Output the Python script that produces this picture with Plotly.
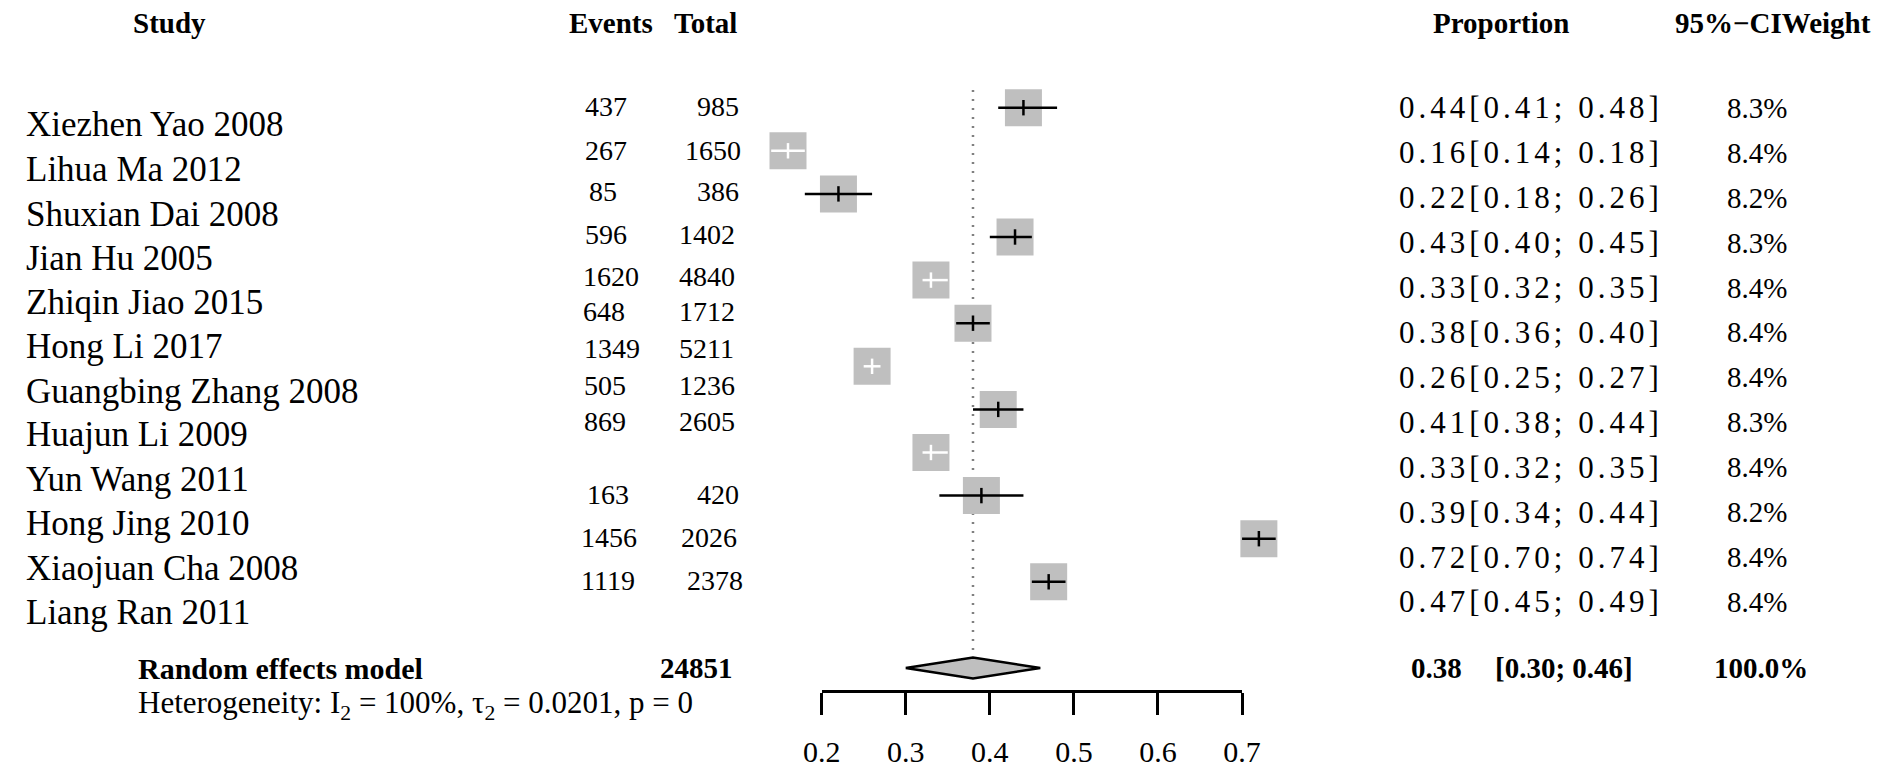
import plotly.graph_objects as go

W, H = 1902, 773

# ---------------- data ----------------
studies = ["Xiezhen Yao 2008", "Lihua Ma 2012", "Shuxian Dai 2008", "Jian Hu 2005",
           "Zhiqin Jiao 2015", "Hong Li 2017", "Guangbing Zhang 2008", "Huajun Li 2009",
           "Yun Wang 2011", "Hong Jing 2010", "Xiaojuan Cha 2008", "Liang Ran 2011"]
events = [437, 267, 85, 596, 1620, 648, 1349, 505, 869, 163, 1456, 1119]
totals = [985, 1650, 386, 1402, 4840, 1712, 5211, 1236, 2605, 420, 2026, 2378]
proportion = [0.44, 0.16, 0.22, 0.43, 0.33, 0.38, 0.26, 0.41, 0.33, 0.39, 0.72, 0.47]
ci_lower = [0.41, 0.14, 0.18, 0.40, 0.32, 0.36, 0.25, 0.38, 0.32, 0.34, 0.70, 0.45]
ci_upper = [0.48, 0.18, 0.26, 0.45, 0.35, 0.40, 0.27, 0.44, 0.35, 0.44, 0.74, 0.49]
weights = [8.3, 8.4, 8.2, 8.3, 8.4, 8.4, 8.4, 8.3, 8.4, 8.2, 8.4, 8.4]

pooled_label = "Random effects model"
pooled_total = 24851
pooled_est = 0.38
pooled_lower = 0.30
pooled_upper = 0.46
pooled_weight = 100.0
het_i2 = 100
het_tau2 = 0.0201
het_p = 0

tick_values = [0.2, 0.3, 0.4, 0.5, 0.6, 0.7]
tick_labels = ["0.2", "0.3", "0.4", "0.5", "0.6", "0.7"]

# ---------------- styles / layout positions (pixels) ----------------
FONT = "Liberation Serif"
BOX_GREY = "#bfbfbf"
ci_colors = ["black", "white", "black", "black", "white", "black",
             "white", "black", "white", "black", "black", "black"]

rows = list(range(1, len(studies) + 1))
pooled_row = len(studies) + 2

# pixel mapping of the data axes (full-figure axes)
X0_PX, PX_PER_UNIT = 819 - 0.2 * 858, 858.0      # value -> pixel
Y1_PX, PX_PER_ROW = 107.7, 43.1                  # row -> pixel
x_range = [(0 - X0_PX) / PX_PER_UNIT, (W - X0_PX) / PX_PER_UNIT]
y_range = [1 + (H - Y1_PX) / PX_PER_ROW, 1 + (0 - Y1_PX) / PX_PER_ROW]

name_y = [125, 169, 214, 258, 302, 346, 391, 435, 479, 523, 568, 612]
num_y = [106, 150, 192, 234, 276, 311, 348, 385, 422, 494, 537, 580]
events_x = [576, 576, 580, 575, 573, 573, 574, 574, 574, 578, 571, 571]
totals_x = [737, 739, 737, 733, 733, 733, 732, 733, 733, 737, 735, 741]
right_y = [108 + 44.9 * i for i in range(len(studies))]

fig = go.Figure()

# dotted line at pooled estimate
fig.add_trace(go.Scatter(x=[pooled_est, pooled_est], y=[0.59, pooled_row - 0.25],
                         mode="lines", line=dict(color="#808080", width=2.5, dash="2px,7px"),
                         hoverinfo="skip"))

# study boxes
fig.add_trace(go.Scatter(x=proportion, y=rows, mode="markers",
                         marker=dict(symbol="square", size=37, color=BOX_GREY,
                                     line=dict(width=0)),
                         hoverinfo="skip"))

# confidence interval lines
for col in ["black", "white"]:
    xs, ys = [], []
    for lo, hi, r, c in zip(ci_lower, ci_upper, rows, ci_colors):
        if c == col:
            xs += [lo, hi, None]
            ys += [r, r, None]
    fig.add_trace(go.Scatter(x=xs, y=ys, mode="lines",
                             line=dict(color=col, width=2.5), hoverinfo="skip"))

# estimate ticks
fig.add_trace(go.Scatter(x=proportion, y=rows, mode="markers",
                         marker=dict(symbol="line-ns", size=11,
                                     line=dict(width=2.5, color=ci_colors)),
                         hoverinfo="skip"))

# pooled diamond
hh = 0.244
fig.add_trace(go.Scatter(x=[pooled_lower, pooled_est, pooled_upper, pooled_est, pooled_lower],
                         y=[pooled_row, pooled_row - hh, pooled_row, pooled_row + hh, pooled_row],
                         mode="lines", fill="toself", fillcolor=BOX_GREY,
                         line=dict(color="black", width=2.5), hoverinfo="skip"))

# dummy trace for the bottom axis
fig.add_trace(go.Scatter(x=[tick_values[0], tick_values[-1]], y=[0, 0], mode="none",
                         xaxis="x2", yaxis="y2", hoverinfo="skip"))

anns = []


def ann(text, px, py, size, anchor="left", bold=False):
    t = f"<b>{text}</b>" if bold else text
    anns.append(dict(text=t, x=px / W, y=1 - py / H, xref="paper", yref="paper",
                     xanchor=anchor, yanchor="middle", showarrow=False,
                     font=dict(family=FONT, size=size, color="black")))


# headers
HDR_Y = 23
ann("Study", 154, HDR_Y, 29, "center", True)
ann("Events", 604, HDR_Y, 29, "center", True)
ann("Total", 735, HDR_Y, 29, "right", True)
ann("Proportion", 1512, HDR_Y, 29, "center", True)
ann("95%−CIWeight", 1790, HDR_Y, 29, "center", True)

for i, s in enumerate(studies):
    ann(s, 5, name_y[i], 35)
    ann(str(events[i]), events_x[i], num_y[i], 28, "left")
    ann(str(totals[i]), totals_x[i], num_y[i], 28, "right")
    ann(f'<span style="letter-spacing:4px">{proportion[i]:.2f}[{ci_lower[i]:.2f}; {ci_upper[i]:.2f}]</span>',
        1406, right_y[i], 31, "left")
    ann(f"{weights[i]:.1f}%", 1773, right_y[i], 29, "center")

POOL_Y = 668
ann(pooled_label, 119, POOL_Y, 30, "left", True)
ann(str(pooled_total), 731, POOL_Y, 29, "right", True)
ann(f"{pooled_est:.2f}", 1418, POOL_Y, 29, "left", True)
ann(f"[{pooled_lower:.2f}; {pooled_upper:.2f}]", 1504, POOL_Y, 29, "left", True)
ann(f"{pooled_weight:.1f}%", 1728, POOL_Y, 29, "left", True)
ann(f"Heterogeneity: I<sub>2</sub> = {het_i2}%, τ<sub>2</sub> = {het_tau2}, p = {het_p}",
    119, 705, 31, "left")

AXIS_PX = 690
fig.update_layout(
    width=W, height=H, margin=dict(l=0, r=0, t=0, b=0),
    paper_bgcolor="white", plot_bgcolor="rgba(0,0,0,0)", showlegend=False,
    xaxis=dict(domain=[0, 1], range=x_range, visible=False, fixedrange=True),
    yaxis=dict(domain=[0, 1], range=y_range, visible=False, fixedrange=True),
    xaxis2=dict(domain=[(X0_PX + PX_PER_UNIT * tick_values[0]) / W,
                        (X0_PX + PX_PER_UNIT * tick_values[-1]) / W],
                range=[tick_values[0], tick_values[-1]], anchor="y2",
                showline=True, linecolor="black", linewidth=2.5,
                ticks="outside", ticklen=22, tickwidth=2.5, tickcolor="black",
                tickvals=tick_values, ticktext=tick_labels, showgrid=False, zeroline=False,
                tickfont=dict(family=FONT, size=30, color="black"), ticklabelstandoff=11,
                fixedrange=True),
    yaxis2=dict(domain=[1 - AXIS_PX / H, 1 - AXIS_PX / H + 0.05], anchor="x2",
                visible=False, fixedrange=True),
    annotations=anns,
)

fig.write_html("out.html", config={"displayModeBar": False},
               post_script="document.body.style.margin='0';document.body.style.padding='0';")
